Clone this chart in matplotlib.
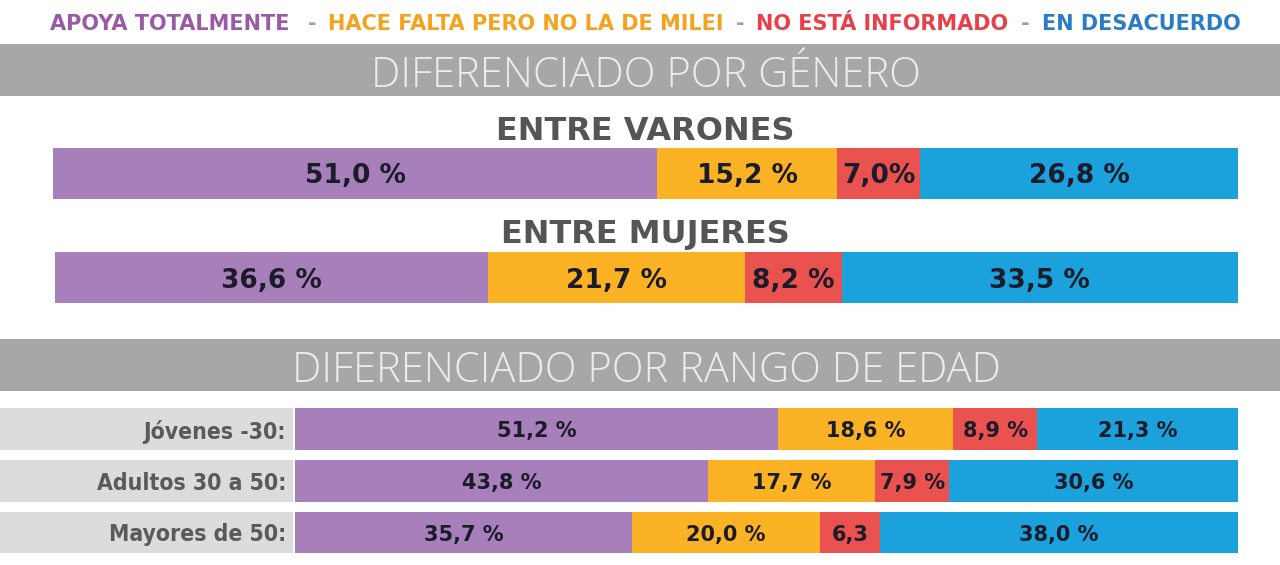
import matplotlib
matplotlib.use("Agg")
import matplotlib.pyplot as plt
from matplotlib.patches import Rectangle
import numpy as np

# ---------------- data ----------------
categories = ["APOYA TOTALMENTE", "HACE FALTA PERO NO LA DE MILEI",
              "NO ESTÁ INFORMADO", "EN DESACUERDO"]
gender_groups = ["ENTRE VARONES", "ENTRE MUJERES"]
varones = [51.0, 15.2, 7.0, 26.8]
mujeres = [36.6, 21.7, 8.2, 33.5]
varones_labels = ["51,0 %", "15,2 %", "7,0%", "26,8 %"]
mujeres_labels = ["36,6 %", "21,7 %", "8,2 %", "33,5 %"]

age_groups = ["Jóvenes -30:", "Adultos 30 a 50:", "Mayores de 50:"]
jovenes = [51.2, 18.6, 8.9, 21.3]
adultos = [43.8, 17.7, 7.9, 30.6]
mayores = [35.7, 20.0, 6.3, 38.0]
jovenes_labels = ["51,2 %", "18,6 %", "8,9 %", "21,3 %"]
adultos_labels = ["43,8 %", "17,7 %", "7,9 %", "30,6 %"]
mayores_labels = ["35,7 %", "20,0 %", "6,3", "38,0 %"]

section_titles = ["DIFERENCIADO POR GÉNERO", "DIFERENCIADO POR RANGO DE EDAD"]

# ---------------- style ----------------
bar_colors = ["#a77fbb", "#fbb325", "#e9524f", "#1ba1dc"]
legend_colors = ["#9a5aa6", "#f6a21e", "#e8404a", "#2b7cc4"]
W, H = 1280, 565
HEAVY = "DejaVu Sans"

fig = plt.figure(figsize=(W / 100, H / 100), dpi=100)
fig.patch.set_facecolor("white")


def fx(x):
    return x / W


def fy(y):
    return 1 - y / H


def ax_at(x0, y0, x1, y1):
    return fig.add_axes([x0 / W, 1 - y1 / H, (x1 - x0) / W, (y1 - y0) / H])


def draw_bar(ax, values, labels, fs):
    left = np.concatenate([[0], np.cumsum(values)[:-1]])
    ax.barh(0, values, left=left, height=1.0, color=bar_colors, edgecolor="none")
    for l, v, t in zip(left, values, labels):
        ax.text(l + v / 2, 0, t, ha="center", va="center_baseline", fontsize=fs,
                fontfamily=HEAVY, fontweight="bold", color="#1b1b2a")
    ax.set_xlim(0, sum(values))
    ax.set_ylim(-0.5, 0.5)
    ax.axis("off")


# ---------------- legend line ----------------
leg_x = [50, 328, 756, 1042]
dash_x = [312, 740, 1025]
for x, t, c in zip(leg_x, categories, legend_colors):
    fig.text(fx(x), fy(22), t, ha="left", va="center_baseline", fontsize=15,
             fontfamily=HEAVY, fontweight="bold", color=c)
for x in dash_x:
    fig.text(fx(x), fy(22), "-", ha="center", va="center_baseline", fontsize=15,
             fontfamily=HEAVY, fontweight="bold", color="#a0a0a0")

# ---------------- section bands ----------------
for (y0, y1), title in zip([(44, 96), (339, 391)], section_titles):
    fig.patches.append(Rectangle((0, fy(y1)), 1, (y1 - y0) / H,
                                 transform=fig.transFigure, facecolor="#a7a7a7",
                                 edgecolor="none"))
    fig.text(fx(646), fy((y0 + y1) / 2 + 1), title, ha="center", va="center_baseline",
             fontsize=30, fontfamily="Open Sans", fontweight="light", color="#ececec")

# ---------------- gender bars ----------------
for title, ty in zip(gender_groups, [128, 231]):
    fig.text(fx(645), fy(ty), title, ha="center", va="center_baseline", fontsize=23,
             fontfamily=HEAVY, fontweight="bold", color="#555555")

draw_bar(ax_at(53, 148, 1238, 199), varones, varones_labels, 19)
draw_bar(ax_at(55, 252, 1238, 303), mujeres, mujeres_labels, 19)

# ---------------- age bars ----------------
rows = [(408, 450), (460, 502), (512, 553)]
for (y0, y1), name, vals, labs in zip(rows, age_groups,
                                      [jovenes, adultos, mayores],
                                      [jovenes_labels, adultos_labels, mayores_labels]):
    fig.patches.append(Rectangle((0, fy(y1)), fx(293), (y1 - y0) / H,
                                 transform=fig.transFigure, facecolor="#dcdcdc",
                                 edgecolor="none"))
    fig.text(fx(286), fy((y0 + y1) / 2), name, ha="right", va="center_baseline",
             fontsize=16.5, fontfamily="DejaVu Sans", fontstretch="condensed",
             fontweight="bold", color="#5a5a5a")
    draw_bar(ax_at(295, y0, 1238, y1), vals, labs, 15)

fig.savefig("out.png", dpi=100, facecolor="white")
